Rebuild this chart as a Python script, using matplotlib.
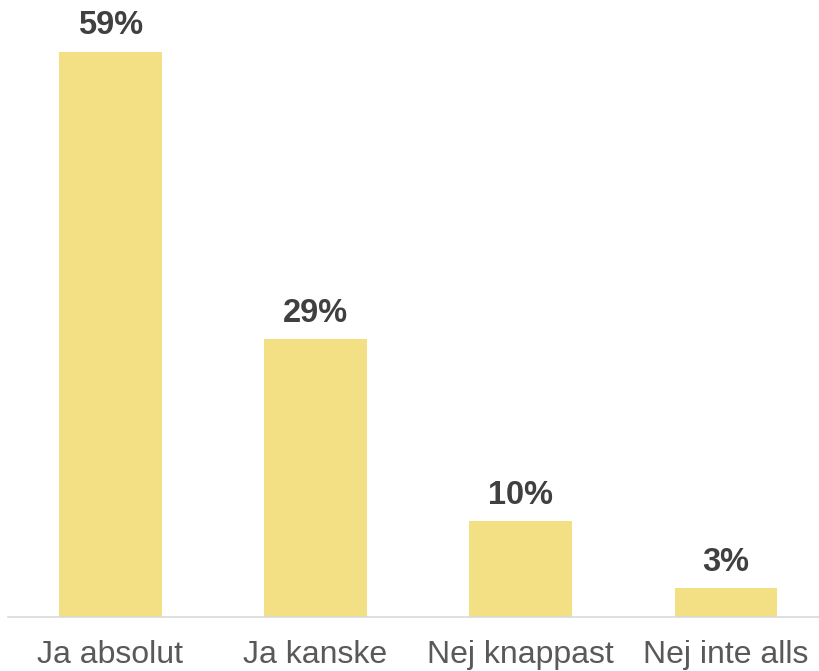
import matplotlib

matplotlib.use("Agg")
import matplotlib.pyplot as plt

categories = ["Ja absolut", "Ja kanske", "Nej knappast", "Nej inte alls"]
values = [59, 29, 10, 3]
value_labels = ["59%", "29%", "10%", "3%"]

plt.rcParams["font.family"] = ["Liberation Sans", "DejaVu Sans"]

fig = plt.figure(figsize=(8.2, 6.71), dpi=100)
ax = fig.add_axes([0.01, 1 - 617 / 671, 0.99, 617 / 671])

positions = list(range(len(categories)))
bars = ax.bar(positions, values, width=0.5, color="#F4E084")

for bar, label in zip(bars, value_labels):
    ax.annotate(
        label,
        (bar.get_x() + bar.get_width() / 2, bar.get_height()),
        xytext=(0, 7.5),
        textcoords="offset points",
        ha="center",
        va="bottom",
        fontsize=23.5,
        fontweight="bold",
        color="#404040",
    )

ax.set_xlim(-0.497, 3.458)
ax.set_ylim(0, 64.4)
ax.set_xticks(positions)
ax.set_xticklabels(categories, fontsize=23, color="#595959")
ax.tick_params(axis="x", length=0, pad=16.5)
ax.set_yticks([])
for side in ["top", "left", "right"]:
    ax.spines[side].set_visible(False)
ax.spines["bottom"].set_color("#D9D9D9")
ax.spines["bottom"].set_linewidth(1.2)

fig.savefig("out.png", dpi=100)
